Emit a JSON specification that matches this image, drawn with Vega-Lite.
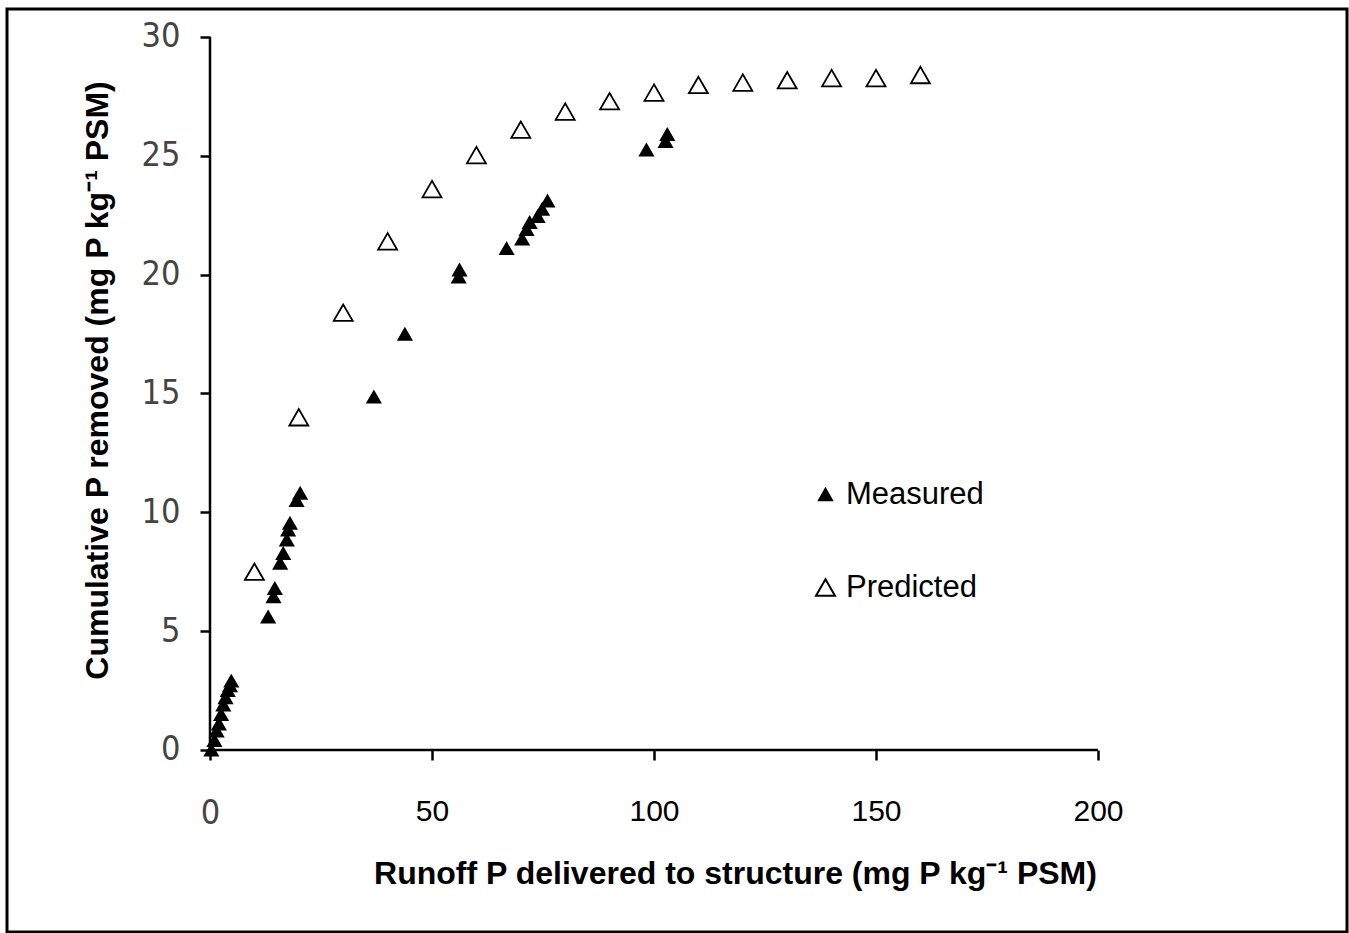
{
  "$schema": "https://vega.github.io/schema/vega-lite/v6.json",
  "width": 1340,
  "height": 923,
  "autosize": {"type": "none"},
  "padding": {"left": 7, "top": 9, "right": 2, "bottom": 1},
  "background": "white",
  "config": {
    "view": {"stroke": "black", "strokeWidth": 3},
    "legend": {
      "labelFont": "Liberation Sans",
      "labelFontSize": 31,
      "labelColor": "black",
      "rowPadding": 61,
      "labelOffset": 5,
      "symbolStrokeWidth": 2,
      "padding": 0
    }
  },
  "encoding": {
    "x": {
      "field": "x",
      "type": "quantitative",
      "scale": {"domain": [-45.72, 256.08], "nice": false, "zero": false},
      "axis": {
        "orient": "bottom",
        "offset": -182,
        "values": [0, 50, 100, 150, 200],
        "domain": false,
        "grid": false,
        "tickSize": 10,
        "tickWidth": 2.5,
        "tickColor": "black",
        "labelFont": {"condition": {"test": "datum.value === 0", "value": "'DejaVu Sans Condensed', 'Liberation Mono', monospace"}, "value": "Liberation Sans"},
        "labelFontSize": {"condition": {"test": "datum.value === 0", "value": 34}, "value": 30},
        "labelColor": {"condition": {"test": "datum.value === 0", "value": "#444"}, "value": "black"},
        "labelPadding": 36,
        "title": "Runoff P delivered to structure (mg P kg⁻¹ PSM)",
        "titleFont": "Liberation Sans",
        "titleFontSize": 32,
        "titleFontWeight": "bold",
        "titleColor": "black",
        "titleX": 728,
        "titleY": 123,
        "titleAlign": "center",
        "titleBaseline": "middle"
      }
    },
    "y": {
      "field": "y",
      "type": "quantitative",
      "scale": {"domain": [-7.658, 31.178], "nice": false, "zero": false},
      "axis": {
        "orient": "left",
        "offset": -203,
        "values": [0, 5, 10, 15, 20, 25, 30],
        "domain": false,
        "grid": false,
        "tickSize": 10,
        "tickWidth": 2.5,
        "tickColor": "black",
        "labelFont": "'DejaVu Sans Condensed', 'Liberation Mono', monospace",
        "labelFontSize": 34,
        "labelColor": "#444",
        "labelPadding": 20,
        "title": "Cumulative P removed (mg P kg⁻¹ PSM)",
        "titleFont": "Liberation Sans",
        "titleFontSize": 32,
        "titleFontWeight": "bold",
        "titleColor": "black",
        "titleX": -113,
        "titleY": 371,
        "titleAngle": -90,
        "titleAlign": "center",
        "titleBaseline": "middle"
      }
    }
  },
  "layer": [
    {
      "data": {
        "values": [
          {"series": "Measured", "x": 0.3, "y": 0.0},
          {"series": "Measured", "x": 1.0, "y": 0.4},
          {"series": "Measured", "x": 1.5, "y": 0.8},
          {"series": "Measured", "x": 2.0, "y": 1.1},
          {"series": "Measured", "x": 2.5, "y": 1.5},
          {"series": "Measured", "x": 3.0, "y": 1.9},
          {"series": "Measured", "x": 3.5, "y": 2.2},
          {"series": "Measured", "x": 4.0, "y": 2.5},
          {"series": "Measured", "x": 4.5, "y": 2.7},
          {"series": "Measured", "x": 4.8, "y": 2.9},
          {"series": "Measured", "x": 13.1, "y": 5.6},
          {"series": "Measured", "x": 14.3, "y": 6.45},
          {"series": "Measured", "x": 14.6, "y": 6.8},
          {"series": "Measured", "x": 15.8, "y": 7.86},
          {"series": "Measured", "x": 16.5, "y": 8.27},
          {"series": "Measured", "x": 17.3, "y": 8.84},
          {"series": "Measured", "x": 17.6, "y": 9.26},
          {"series": "Measured", "x": 18.0, "y": 9.54},
          {"series": "Measured", "x": 19.5, "y": 10.5},
          {"series": "Measured", "x": 20.3, "y": 10.8},
          {"series": "Measured", "x": 36.9, "y": 14.85},
          {"series": "Measured", "x": 43.9, "y": 17.5},
          {"series": "Measured", "x": 56.0, "y": 19.9},
          {"series": "Measured", "x": 56.2, "y": 20.2},
          {"series": "Measured", "x": 66.8, "y": 21.1},
          {"series": "Measured", "x": 70.3, "y": 21.5},
          {"series": "Measured", "x": 71.3, "y": 21.9},
          {"series": "Measured", "x": 72.0, "y": 22.2},
          {"series": "Measured", "x": 73.8, "y": 22.45},
          {"series": "Measured", "x": 74.8, "y": 22.75},
          {"series": "Measured", "x": 76.0, "y": 23.1},
          {"series": "Measured", "x": 98.3, "y": 25.25},
          {"series": "Measured", "x": 102.6, "y": 25.6},
          {"series": "Measured", "x": 103.0, "y": 25.9},
          {"series": "Predicted", "x": 10, "y": 7.5},
          {"series": "Predicted", "x": 20, "y": 14.0},
          {"series": "Predicted", "x": 30, "y": 18.4},
          {"series": "Predicted", "x": 40, "y": 21.4},
          {"series": "Predicted", "x": 50, "y": 23.6},
          {"series": "Predicted", "x": 60, "y": 25.03},
          {"series": "Predicted", "x": 70, "y": 26.1},
          {"series": "Predicted", "x": 80, "y": 26.86},
          {"series": "Predicted", "x": 90, "y": 27.3},
          {"series": "Predicted", "x": 100, "y": 27.66},
          {"series": "Predicted", "x": 110, "y": 27.98},
          {"series": "Predicted", "x": 120, "y": 28.08},
          {"series": "Predicted", "x": 130, "y": 28.18},
          {"series": "Predicted", "x": 140, "y": 28.27},
          {"series": "Predicted", "x": 150, "y": 28.27},
          {"series": "Predicted", "x": 160, "y": 28.4}
        ]
      },
      "mark": {"type": "point", "shape": "triangle-up", "filled": true, "strokeWidth": 1.8, "opacity": 1},
      "encoding": {
        "fill": {
          "field": "series",
          "type": "nominal",
          "scale": {"domain": ["Measured", "Predicted"], "range": ["black", "white"]},
          "legend": {"title": null, "orient": "none", "legendX": 803, "legendY": 470}
        },
        "stroke": {
          "field": "series",
          "type": "nominal",
          "scale": {"domain": ["Measured", "Predicted"], "range": ["black", "black"]},
          "legend": {"title": null, "orient": "none", "legendX": 803, "legendY": 470}
        },
        "size": {
          "field": "series",
          "type": "ordinal",
          "scale": {"domain": ["Measured", "Predicted"], "range": [170, 360]},
          "legend": {"title": null, "orient": "none", "legendX": 803, "legendY": 470}
        }
      }
    },
    {
      "data": {
        "values": [
          {"x": 0, "y": 0, "x2": 200, "y2": 0},
          {"x": 0, "y": 0, "x2": 0, "y2": 30}
        ]
      },
      "mark": {"type": "rule", "strokeWidth": 2.5, "color": "black"},
      "encoding": {
        "x2": {"field": "x2"},
        "y2": {"field": "y2"}
      }
    }
  ]
}
